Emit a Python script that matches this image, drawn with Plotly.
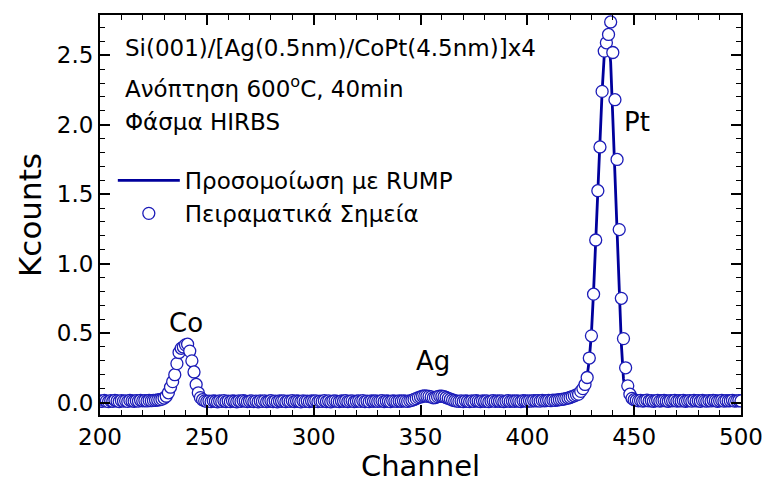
import plotly.graph_objects as go

# HIRBS spectrum: Si(001)/[Ag(0.5nm)/CoPt(4.5nm)]x4 annealed at 600 C, 40 min
first_channel = 200

# Measured counts (Kcounts), one value per channel from 200 to 500
counts_200_249 = [
    0.012, 0.008, 0.015, 0.010, 0.006, 0.013, 0.009, 0.016, 0.011, 0.007,
    0.014, 0.010, 0.012, 0.008, 0.015, 0.011, 0.009, 0.013, 0.010, 0.016,
    0.012, 0.014, 0.011, 0.015, 0.013, 0.015, 0.016, 0.018, 0.020, 0.024,
    0.032, 0.045, 0.070, 0.110, 0.150, 0.200, 0.280, 0.360, 0.390, 0.400,
    0.415, 0.420, 0.370, 0.300, 0.220, 0.130, 0.070, 0.035, 0.020, 0.012,
]
counts_250_299 = [
    0.008, 0.010, 0.006, 0.012, 0.009, 0.005, 0.011, 0.008, 0.013, 0.007,
    0.010, 0.006, 0.012, 0.009, 0.005, 0.011, 0.008, 0.013, 0.010, 0.006,
    0.009, 0.012, 0.007, 0.010, 0.005, 0.011, 0.008, 0.012, 0.006, 0.009,
    0.013, 0.007, 0.010, 0.005, 0.011, 0.009, 0.012, 0.006, 0.010, 0.008,
    0.013, 0.007, 0.011, 0.009, 0.005, 0.012, 0.008, 0.010, 0.006, 0.011,
]
counts_300_349 = [
    0.009, 0.012, 0.006, 0.010, 0.008, 0.013, 0.007, 0.011, 0.005, 0.010,
    0.012, 0.008, 0.006, 0.011, 0.009, 0.013, 0.007, 0.010, 0.012, 0.006,
    0.009, 0.011, 0.008, 0.013, 0.007, 0.010, 0.006, 0.012, 0.009, 0.011,
    0.008, 0.010, 0.013, 0.007, 0.011, 0.009, 0.006, 0.012, 0.010, 0.008,
    0.011, 0.009, 0.012, 0.010, 0.008, 0.012, 0.016, 0.022, 0.028, 0.035,
]
counts_350_399 = [
    0.040, 0.045, 0.047, 0.046, 0.044, 0.040, 0.034, 0.036, 0.042, 0.046,
    0.045, 0.042, 0.036, 0.030, 0.024, 0.018, 0.013, 0.010, 0.008, 0.011,
    0.007, 0.012, 0.009, 0.006, 0.011, 0.008, 0.013, 0.010, 0.007, 0.012,
    0.009, 0.011, 0.006, 0.010, 0.013, 0.008, 0.011, 0.009, 0.012, 0.007,
    0.010, 0.013, 0.008, 0.011, 0.009, 0.012, 0.010, 0.007, 0.013, 0.011,
]
counts_400_449 = [
    0.009, 0.012, 0.010, 0.014, 0.011, 0.013, 0.010, 0.015, 0.012, 0.014,
    0.016, 0.013, 0.017, 0.015, 0.018, 0.020, 0.022, 0.025, 0.028, 0.032,
    0.036, 0.042, 0.048, 0.055, 0.060, 0.080, 0.100, 0.130, 0.180, 0.320,
    0.480, 0.780, 1.170, 1.525, 1.840, 2.240, 2.530, 2.590, 2.650, 2.740,
    2.520, 2.180, 1.750, 1.245, 0.750, 0.460, 0.250, 0.120, 0.060, 0.030,
]
counts_450_500 = [
    0.020, 0.016, 0.012, 0.015, 0.010, 0.013, 0.017, 0.011, 0.014, 0.009,
    0.012, 0.016, 0.010, 0.013, 0.015, 0.011, 0.009, 0.014, 0.012, 0.016,
    0.010, 0.013, 0.011, 0.015, 0.009, 0.012, 0.014, 0.010, 0.016, 0.011,
    0.013, 0.009, 0.015, 0.012, 0.010, 0.014, 0.011, 0.016, 0.013, 0.009,
    0.012, 0.015, 0.010, 0.014, 0.011, 0.013, 0.016, 0.010, 0.012, 0.014,
    0.011,
]
measured_counts = (counts_200_249 + counts_250_299 + counts_300_349
                   + counts_350_399 + counts_400_449 + counts_450_500)
measured_channels = list(range(first_channel, first_channel + len(measured_counts)))

# RUMP simulation (Kcounts)
sim_channels = [
    200, 220, 225, 228, 230, 231, 232, 233, 234, 235, 236, 237, 238, 239, 240,
    241, 242, 243, 244, 245, 246, 247, 248, 250, 270, 300, 330, 343, 346, 348,
    350, 352, 354, 356, 358, 360, 362, 364, 366, 368, 372, 400, 410, 416, 420,
    422, 424, 425, 426, 427, 428, 429, 430, 431, 432, 433, 434, 435, 436, 437,
    438, 439, 440, 441, 442, 443, 444, 445, 446, 447, 448, 450, 475, 500,
]
sim_counts = [
    0.010, 0.011, 0.013, 0.018, 0.028, 0.042, 0.066, 0.105, 0.150, 0.205,
    0.280, 0.355, 0.390, 0.405, 0.415, 0.415, 0.370, 0.300, 0.215, 0.130,
    0.068, 0.035, 0.018, 0.010, 0.009, 0.009, 0.009, 0.011, 0.017, 0.027,
    0.040, 0.046, 0.044, 0.036, 0.041, 0.045, 0.037, 0.025, 0.014, 0.009,
    0.009, 0.011, 0.013, 0.018, 0.025, 0.032, 0.042, 0.055, 0.075, 0.110,
    0.190, 0.310, 0.500, 0.800, 1.170, 1.520, 1.860, 2.240, 2.500, 2.600,
    2.610, 2.450, 2.050, 1.620, 1.200, 0.780, 0.420, 0.170, 0.070, 0.035,
    0.022, 0.015, 0.012, 0.011,
]

peak_labels = ["Co", "Ag", "Pt"]
peak_label_x = [240.3, 356.0, 451.5]
peak_label_y = [0.575, 0.30, 2.02]

info_lines = [
    "Si(001)/[Ag(0.5nm)/CoPt(4.5nm)]x4",
    "Ανόπτηση 600<sup>o</sup>C, 40min",
    "Φάσμα HIRBS",
]
info_y = [2.556, 2.275, 2.023]

FONT = "DejaVu Sans, Liberation Sans, Arial, sans-serif"
LINE_BLUE = "#00009c"
MARK_BLUE = "#1c1cb8"

fig = go.Figure()
fig.add_trace(go.Scatter(
    x=sim_channels, y=sim_counts, mode="lines",
    name="Προσομοίωση με RUMP",
    line=dict(color=LINE_BLUE, width=2.8),
))
fig.add_trace(go.Scatter(
    x=measured_channels, y=measured_counts, mode="markers",
    name="Πειραματικά Σημεία",
    marker=dict(symbol="circle", size=12, color="white",
                line=dict(color=MARK_BLUE, width=1.3)),
))

for label, lx, ly in zip(peak_labels, peak_label_x, peak_label_y):
    fig.add_annotation(x=lx, y=ly, text=label, showarrow=False,
                       font=dict(family=FONT, size=26, color="black"))

for line, ly in zip(info_lines, info_y):
    fig.add_annotation(x=0.036, xref="paper", y=ly, yref="y", text=line,
                       xanchor="left", showarrow=False,
                       font=dict(family=FONT, size=23, color="black"))

axis_common = dict(
    showline=True, linecolor="black", linewidth=2, mirror="allticks",
    ticks="inside", ticklen=10, tickwidth=1.6, tickcolor="black",
    showgrid=False, zeroline=False, automargin=False,
    tickfont=dict(family=FONT, size=23, color="black"),
)

fig.update_xaxes(
    range=[200, 500], dtick=50, tick0=200,
    minor=dict(ticks="inside", dtick=10, ticklen=5, tickwidth=1.3, tickcolor="black"),
    title=dict(text="Channel", font=dict(family=FONT, size=29, color="black"), standoff=5),
    **axis_common,
)
fig.update_yaxes(
    range=[-0.09, 2.79], dtick=0.5, tick0=0, tickformat=".1f",
    minor=dict(ticks="inside", dtick=0.1, ticklen=5, tickwidth=1.3, tickcolor="black"),
    title=dict(text="Kcounts", font=dict(family=FONT, size=31, color="black"), standoff=6),
    **axis_common,
)

fig.update_layout(
    width=768, height=483,
    margin=dict(l=100, r=27, t=15, b=68),
    plot_bgcolor="white", paper_bgcolor="white",
    font=dict(family=FONT, color="black"),
    legend=dict(x=0.02, y=0.64, xanchor="left", yanchor="top",
                bgcolor="rgba(0,0,0,0)", borderwidth=0,
                font=dict(family=FONT, size=23, color="black"),
                itemwidth=62, tracegroupgap=0),
)

fig.write_html("out.html")
